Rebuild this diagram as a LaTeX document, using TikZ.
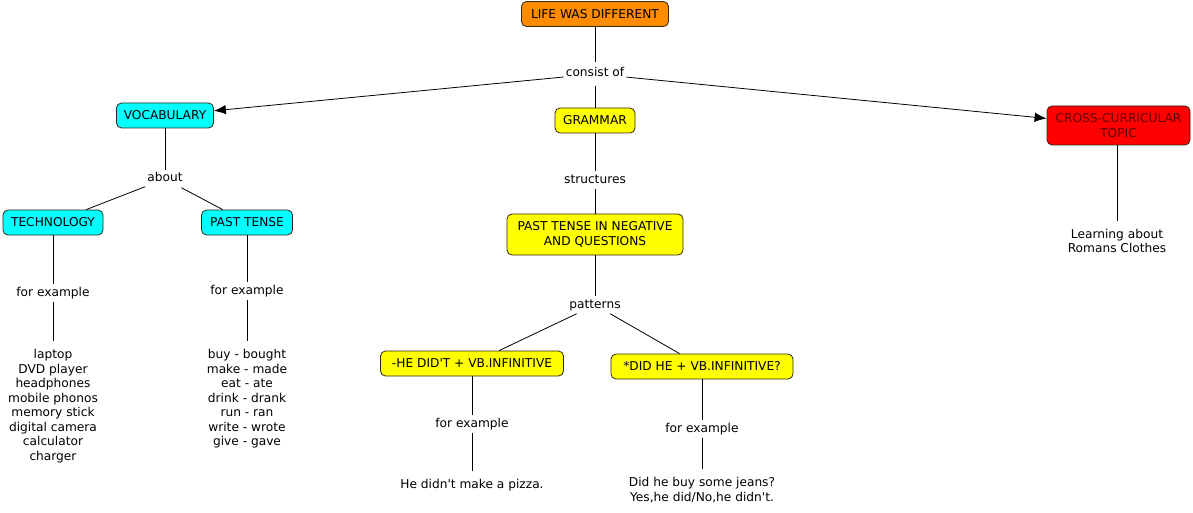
\documentclass[tikz,border=0pt]{standalone}
\usepackage{fontspec}
\setmainfont{DejaVu Sans}[Ligatures=TeXOff]
\usetikzlibrary{arrows.meta}
\definecolor{corange}{RGB}{255,140,0}
\definecolor{ccyan}{RGB}{0,255,255}
\definecolor{cyellow}{RGB}{255,255,0}
\definecolor{cred}{RGB}{255,0,0}
\definecolor{cdred}{RGB}{95,0,0}
\definecolor{cborder}{RGB}{50,40,20}
\begin{document}
\begin{tikzpicture}[x=1pt,y=-1pt,
  font=\fontsize{12.2}{14.5}\selectfont,
  box/.style={draw=cborder, line width=0.8pt, rounded corners=5pt, inner xsep=6pt, inner ysep=3pt},
  concept/.style={box, minimum height=25pt, text height=8.75pt, text depth=0pt},
  concepttwo/.style={box, align=center},
  lab/.style={inner xsep=2pt, inner ysep=3pt, text height=8.5pt, text depth=2.5pt},
  txt/.style={align=center, inner sep=8pt},
  ln/.style={draw, line width=0.8pt},
  arr/.style={ln, -{Latex[length=12pt,width=9.5pt]}}]
\useasboundingbox[fill=white] (0,0) rectangle (1193,513);

\node[concept, fill=corange, minimum width=147pt] (lwd) at (595,14) {LIFE WAS DIFFERENT};
\node[lab, inner ysep=6pt] (consist) at (595,74) {consist of};
\node[concept, fill=ccyan, minimum width=97pt] (vocab) at (165,115.5) {VOCABULARY};
\node[concept, fill=cyellow, minimum width=80pt] (gram) at (595,120.5) {GRAMMAR};
\node[concepttwo, fill=cred, text=cdred, minimum width=143pt, minimum height=39pt] (cross) at (1118.5,125.5) {CROSS-CURRICULAR\\TOPIC};
\node[lab] (about) at (165,179) {about};
\node[concept, fill=ccyan, minimum width=100pt] (tech) at (53,222.5) {TECHNOLOGY};
\node[concept, fill=ccyan, minimum width=91pt] (pt) at (247,222.5) {PAST TENSE};
\node[lab] (struct) at (595,180) {structures};
\node[concepttwo, fill=cyellow, minimum width=176pt, minimum height=41pt] (ptneg) at (595,234.5) {PAST TENSE IN NEGATIVE\\AND QUESTIONS};
\node[txt] (learn) at (1117,241) {Learning about\\Romans Clothes};
\node[lab] (fe1) at (53,293) {for example};
\node[lab] (fe2) at (247,291) {for example};
\node[txt] (list1) at (53,406) {laptop\\DVD player\\headphones\\mobile phonos\\memory stick\\digital camera\\calculator\\charger};
\node[txt] (list2) at (247,399) {buy - bought\\make - made\\eat - ate\\drink - drank\\run - ran\\write - wrote\\give - gave};
\node[lab] (pat) at (595,305) {patterns};
\node[concept, fill=cyellow, minimum width=183pt] (he) at (472,363.5) {-HE DID'T + VB.INFINITIVE};
\node[concept, fill=cyellow, minimum width=182pt] (did) at (702,366.5) {*DID HE + VB.INFINITIVE?};
\node[lab] (fe3) at (472,424) {for example};
\node[lab] (fe4) at (702,429) {for example};
\node[txt] (ex1) at (472,485) {He didn't make a pizza.};
\node[txt] (ex2) at (702,490) {Did he buy some jeans?\\Yes,he did/No,he didn't.};

\draw[ln] (lwd) -- (consist);
\draw[ln] (consist) -- (gram);
\draw[arr] (consist) -- (vocab);
\draw[arr] (consist) -- (cross);
\draw[ln] (vocab) -- (about);
\draw[ln] (about) -- (tech);
\draw[ln] (about) -- (pt);
\draw[ln] (tech) -- (fe1);
\draw[ln] (fe1) -- (list1);
\draw[ln] (pt) -- (fe2);
\draw[ln] (fe2) -- (list2);
\draw[ln] (gram) -- (struct);
\draw[ln] (struct) -- (ptneg);
\draw[ln] (ptneg) -- (pat);
\draw[ln] (pat) -- (he);
\draw[ln] (pat) -- (did);
\draw[ln] (he) -- (fe3);
\draw[ln] (fe3) -- (ex1);
\draw[ln] (did) -- (fe4);
\draw[ln] (fe4) -- (ex2);
\draw[ln] (cross.south -| learn) -- (learn);
\end{tikzpicture}
\end{document}
